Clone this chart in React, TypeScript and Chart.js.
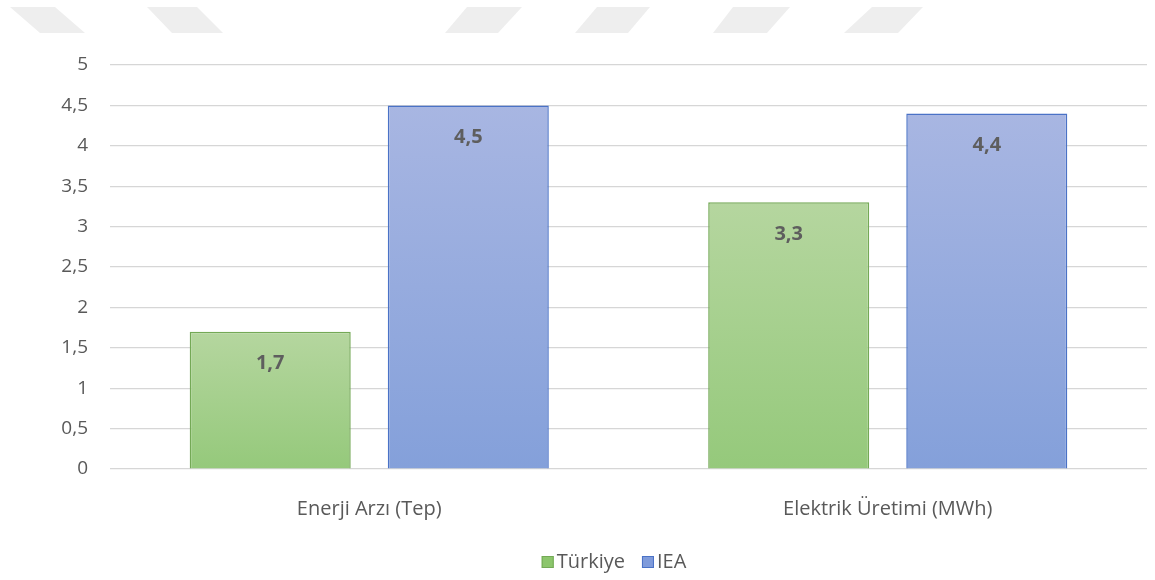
import React, { useEffect, useRef } from "react";
import { Chart, registerables } from "chart.js";

Chart.register(...registerables);

// Category labels and series values
const categories = ["Enerji Arzı (Tep)", "Elektrik Üretimi (MWh)"];
const turkiyeValues = [1.7, 3.3];
const ieaValues = [4.5, 4.4];
const seriesNames = ["Türkiye", "IEA"];

// Axis range
const yMin = 0;
const yMax = 5;
const yStep = 0.5;

const FONT = "'Open Sans', 'Liberation Sans', sans-serif";
const TEXT = "#595959";

const palette = [
  { top: "#b5d69f", bottom: "#95c97b", border: "#74a956", legend: "#8cc66c" },
  { top: "#a8b6e2", bottom: "#84a0da", border: "#4a72c6", legend: "#7f9bdb" },
];

const fmt = (v: number) => String(v).replace(".", ",");

// Gray slanted bands across the top of the page
const bands: number[][][] = [
  [[10, 7], [55, 7], [85, 33], [40, 33]],
  [[147, 7], [197, 7], [223, 33], [172, 33]],
  [[467, 7], [522, 7], [498, 33], [445, 33]],
  [[597, 7], [650, 7], [628, 33], [575, 33]],
  [[733, 7], [790, 7], [767, 33], [713, 33]],
  [[872, 7], [923, 7], [898, 33], [844, 33]],
];

function gradientFill(idx: number) {
  return (ctx: any) => {
    const chart = ctx.chart;
    const y = chart.scales && chart.scales.y;
    const c = palette[idx];
    if (!y || ctx.type !== "data") return c.bottom;
    const top = y.getPixelForValue(ctx.raw);
    const bottom = y.getPixelForValue(0);
    if (!isFinite(top) || !isFinite(bottom) || top === bottom) return c.bottom;
    const g = chart.ctx.createLinearGradient(0, top, 0, bottom);
    g.addColorStop(0, c.top);
    g.addColorStop(1, c.bottom);
    return g;
  };
}

const bandsPlugin = {
  id: "bands",
  beforeDraw(chart: any) {
    const ctx = chart.ctx;
    ctx.save();
    ctx.fillStyle = "#eeeeee";
    ctx.filter = "blur(0.6px)";
    for (const b of bands) {
      ctx.beginPath();
      ctx.moveTo(b[0][0], b[0][1]);
      for (let i = 1; i < b.length; i++) ctx.lineTo(b[i][0], b[i][1]);
      ctx.closePath();
      ctx.fill();
    }
    ctx.restore();
  },
};

const valueLabelPlugin = {
  id: "valueLabels",
  afterDatasetsDraw(chart: any) {
    const ctx = chart.ctx;
    ctx.save();
    ctx.font = `bold 20px ${FONT}`;
    ctx.fillStyle = "#5e5e5e";
    ctx.textAlign = "center";
    ctx.textBaseline = "middle";
    chart.data.datasets.forEach((ds: any, di: number) => {
      const meta = chart.getDatasetMeta(di);
      meta.data.forEach((bar: any, i: number) => {
        ctx.fillText(fmt(ds.data[i]), bar.x, bar.y + 32);
      });
    });
    ctx.restore();
  },
};

const legendPlugin = {
  id: "bottomLegend",
  afterDraw(chart: any) {
    const ctx = chart.ctx;
    ctx.save();
    ctx.font = `20px ${FONT}`;
    ctx.textBaseline = "middle";
    ctx.textAlign = "left";
    const box = 12;
    const gap = 3;
    const itemGap = 17;
    const items = chart.data.datasets.map((ds: any, i: number) => ({
      text: ds.label,
      w: box + gap + ctx.measureText(ds.label).width,
      i,
    }));
    const total = items.reduce((s: number, it: any) => s + it.w, 0) + itemGap * (items.length - 1);
    let x = 614 - total / 2;
    const cy = 562;
    for (const it of items) {
      const c = palette[it.i];
      ctx.fillStyle = c.legend;
      ctx.fillRect(x, cy - box / 2, box, box);
      ctx.strokeStyle = c.border;
      ctx.lineWidth = 1;
      ctx.strokeRect(x + 0.5, cy - box / 2 + 0.5, box - 1, box - 1);
      ctx.fillStyle = TEXT;
      ctx.fillText(it.text, x + box + gap, cy);
      x += it.w + itemGap;
    }
    ctx.restore();
  },
};

export default function App() {
  const canvasRef = useRef<HTMLCanvasElement | null>(null);

  useEffect(() => {
    if (!canvasRef.current) return;
    const chart = new Chart(canvasRef.current, {
      type: "bar",
      data: {
        labels: categories,
        datasets: [
          {
            label: seriesNames[0],
            data: turkiyeValues,
            backgroundColor: gradientFill(0),
            borderColor: palette[0].border,
            borderWidth: 1.5,
            categoryPercentage: 0.764,
            barPercentage: 0.813,
          },
          {
            label: seriesNames[1],
            data: ieaValues,
            backgroundColor: gradientFill(1),
            borderColor: palette[1].border,
            borderWidth: 1.5,
            categoryPercentage: 0.764,
            barPercentage: 0.813,
          },
        ],
      },
      options: {
        animation: false,
        responsive: true,
        maintainAspectRatio: false,
        layout: { padding: { top: 65, right: 8, bottom: 35, left: 0 } },
        plugins: {
          legend: { display: false },
          tooltip: { enabled: false },
          title: { display: false },
        },
        scales: {
          x: {
            grid: { display: false, drawTicks: false },
            border: { display: false },
            ticks: { color: TEXT, font: { family: FONT, size: 20 }, padding: 28 },
            afterFit(scale: any) {
              scale.height = 76;
            },
          },
          y: {
            min: yMin,
            max: yMax,
            grid: { color: "#d6d6d6", lineWidth: 1.2, drawTicks: false },
            border: { display: false },
            ticks: {
              stepSize: yStep,
              color: TEXT,
              font: { family: FONT, size: 19 },
              padding: 22,
              callback: (v: any) => fmt(Number(v)),
            },
            afterFit(scale: any) {
              scale.width = 110;
            },
          },
        },
      },
      plugins: [bandsPlugin, valueLabelPlugin, legendPlugin],
    });
    return () => chart.destroy();
  }, []);

  return (
    <div style={{ position: "fixed", left: 0, top: 0, width: 1155, height: 580, background: "#ffffff" }}>
      <canvas ref={canvasRef} />
    </div>
  );
}
